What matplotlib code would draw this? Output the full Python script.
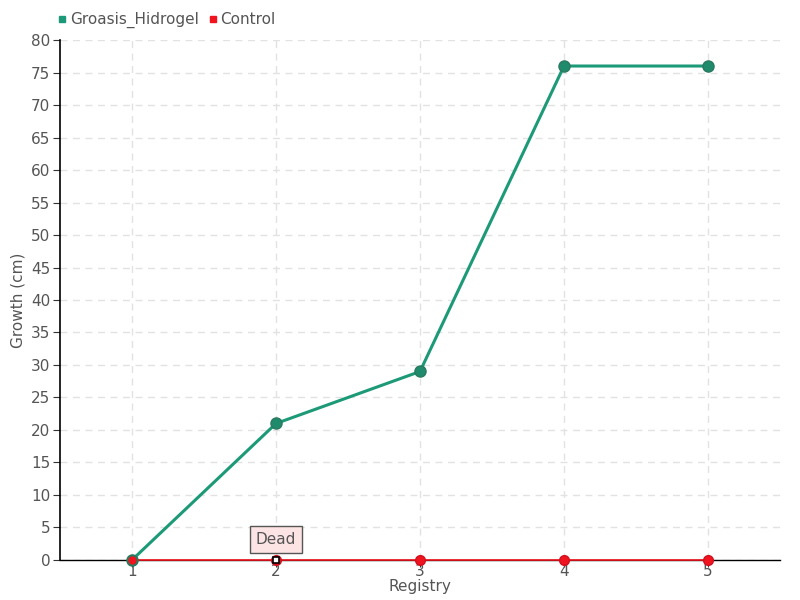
import numpy as np
import matplotlib.pyplot as plt
from matplotlib.lines import Line2D

registry = [1, 2, 3, 4, 5]
groasis = [0, 21, 29, 76, 76]
control = [0, 0, 0, 0, 0]
y_ticks = list(range(0, 85, 5))

plt.rcParams['font.family'] = ['Liberation Sans Narrow', 'DejaVu Sans']

fig = plt.figure(figsize=(8, 6), dpi=100)
ax = fig.add_axes([0.075, 0.0667, 0.9, 0.8666])

green = '#1c9a78'
red = '#f0141e'

ax.plot(registry, control, color=red, lw=1.2, marker='o', ms=7,
        markerfacecolor=red, markeredgecolor='#d01020', zorder=3,
        clip_on=False, label='Control')
ax.plot(registry, groasis, color=green, lw=2.2, marker='o', ms=8,
        markerfacecolor='#1f8a6c', markeredgecolor='#2a7a60', zorder=4,
        clip_on=False, label='Groasis_Hidrogel')
# control marker drawn on top at the first point
ax.plot(registry[0], control[0], 'o', ms=7, color=red, markeredgecolor='#2a7a60',
        zorder=5, clip_on=False)

ax.set_xlim(0.5, 5.5)
ax.set_ylim(0, 80)
ax.set_xticks(registry)
ax.set_yticks(y_ticks)
ax.grid(True, color='#e2e2e2', ls=(0, (5, 4)), lw=1)
ax.set_axisbelow(True)
for s in ['top', 'right']:
    ax.spines[s].set_visible(False)
ax.spines['left'].set_linewidth(1.2)
ax.spines['bottom'].set_linewidth(1.0)
ax.tick_params(axis='both', labelsize=11, labelcolor='#555555', color='#333333', length=5)
ax.tick_params(axis='x', pad=-2)
ax.tick_params(axis='y', pad=2)
ax.set_xlabel('Registry', fontsize=11, color='#555555', labelpad=0)
ax.set_ylabel('Growth (cm)', fontsize=11, color='#555555', labelpad=4)

ax.annotate('Dead', xy=(2, 0), xytext=(2, 3.2), ha='center', va='center',
            fontsize=11, color='#555555',
            bbox=dict(boxstyle='square,pad=0.4', fc='#fde4e4', ec='#555555', lw=1),
            zorder=6)
ax.plot(2, 0, 's', ms=5, mfc='white', mec='black', mew=1.2, zorder=7, clip_on=False)

handles = [Line2D([], [], ls='', marker='s', ms=5, color=green),
           Line2D([], [], ls='', marker='s', ms=5, color=red)]
fig.legend(handles, ['Groasis_Hidrogel', 'Control'], loc='upper left',
           bbox_to_anchor=(0.053, 1.003), ncol=2, frameon=False, fontsize=11,
           handletextpad=0.1, columnspacing=0.5, handlelength=0.8,
           labelcolor='#555555')

fig.savefig('out.png', dpi=100)
